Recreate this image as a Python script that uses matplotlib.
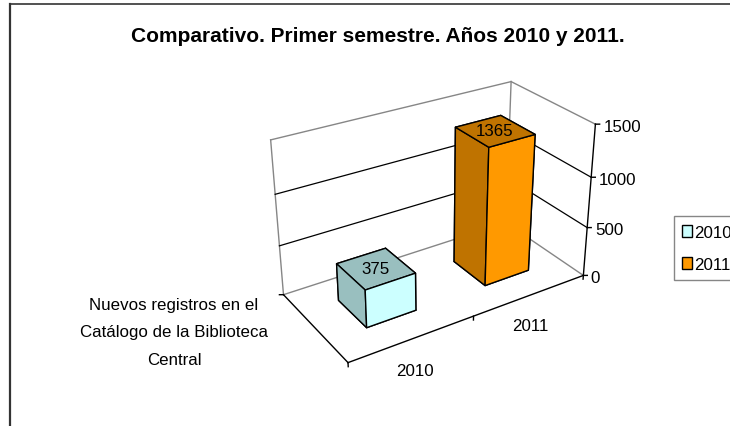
import matplotlib
matplotlib.use('Agg')
import matplotlib.pyplot as plt
from matplotlib.lines import Line2D
from matplotlib.patches import Patch

plt.rcParams['font.family'] = ['Liberation Sans', 'DejaVu Sans']

categorias = ['2010', '2011']
valores = [375, 1365]
ticks_z = [0, 500, 1000, 1500]
titulo = 'Comparativo. Primer semestre. Años 2010 y 2011.'
serie = 'Nuevos registros en el\nCatálogo de la Biblioteca\nCentral'

claros = ['#CCFFFF', '#FF9900']
oscuros = ['#99BFBF', '#BF7300']
gris = '#868686'
fonte = 12.2

W, H = 730, 427
fig = plt.figure(figsize=(W / 100, H / 100), dpi=100)

# posicao e vista ajustadas para cair em cima da imagem original
ax = fig.add_axes([257.0 / W, 35.8 / H, 348.1 / W, 348.1 / H], projection='3d', computed_zorder=False)
ax.set_xlim(0, 2, view_margin=0)
ax.set_ylim(0, 1, view_margin=0)
ax.set_zlim(0, 1500, view_margin=0)
ax.view_init(elev=28.1014, azim=-122.8806)
ax.set_proj_type('persp', focal_length=0.5448)
ax.set_box_aspect((2.4907, 1.2162, 1.5287))
ax.set_axis_off()

zmax = ticks_z[-1]

# paredes em cinza
ax.plot([0, 0], [1, 1], [0, zmax], color=gris, lw=1, zorder=1)
ax.plot([2, 2], [1, 1], [0, zmax], color=gris, lw=1, zorder=1)
ax.plot([0, 2], [1, 1], [zmax, zmax], color=gris, lw=1, zorder=1)
ax.plot([2, 2], [1, 0], [zmax, zmax], color=gris, lw=1, zorder=1)
ax.plot([0, 2], [1, 1], [0, 0], color=gris, lw=1, zorder=1)
ax.plot([2, 2], [1, 0], [0, 0], color=gris, lw=1, zorder=1)

# linhas de grade
for v in ticks_z[1:-1]:
    ax.plot([0, 2], [1, 1], [v, v], color='black', lw=0.9, zorder=1)
    ax.plot([2, 2], [1, 0], [v, v], color='black', lw=0.9, zorder=1)

# eixos
ax.plot([0, 2], [0, 0], [0, 0], color='black', lw=1, zorder=2)
ax.plot([0, 0], [1, 0], [0, 0], color='black', lw=1, zorder=2)
ax.plot([2, 2], [0, 0], [0, zmax], color='black', lw=1, zorder=2)

for v in ticks_z:
    ax.plot([2, 2.025], [0, -0.016], [v, v], color='black', lw=1, zorder=2)
    ax.text(2.045, -0.035, v - 15, str(v), fontsize=fonte, ha='left', va='center', zorder=5)
for i in range(len(categorias) + 1):
    ax.plot([i, i], [0, 0], [0, -40], color='black', lw=1, zorder=2)
ax.plot([0, -0.025], [1, 1.016], [0, 0], color='black', lw=1, zorder=2)

# barras: faces na ordem -Z, +Z, -Y, +Y, -X, +X
for i, v in enumerate(valores):
    cores = [oscuros[i], oscuros[i], claros[i], oscuros[i], oscuros[i], claros[i]]
    ax.bar3d(i + 0.3, 0.29, 0, 0.4, 0.42, v, color=cores, edgecolor='black', linewidth=1, shade=False, zorder=3 + i)
    ax.text(i + 0.5, 0.5, v, str(v), fontsize=fonte, ha='center', va='center', zorder=6)

for i, c in enumerate(categorias):
    ax.text(i + 0.5, -0.02, -310, c, fontsize=fonte, ha='center', va='center', zorder=5)

fig.text(174 / W, 1 - 333 / H, serie, fontsize=fonte, ha='center', va='center', linespacing=2.04)
fig.text(378 / W, 1 - 37 / H, titulo, fontsize=15, fontweight='bold', ha='center', va='center')

# moldura (direita e base ficam fora da imagem)
fig.add_artist(Line2D([10 / W, 10 / W], [0.003, 1 - 5 / H], color='#333333', lw=1.6))
fig.add_artist(Line2D([10 / W, 1], [1 - 5 / H, 1 - 5 / H], color='#333333', lw=1.2))

handles = [Patch(facecolor=claros[0], edgecolor='black', label=categorias[0]),
           Patch(facecolor=claros[1], edgecolor='black', label=categorias[1])]
fig.legend(handles=handles, loc='lower left', bbox_to_anchor=(674 / W, 1 - 281 / H), fontsize=fonte,
           fancybox=False, edgecolor=gris, framealpha=1, handlelength=0.55, handleheight=0.7,
           handletextpad=0.15, labelspacing=0.98, borderpad=0.5, borderaxespad=0, frameon=True)

fig.savefig('out.png', dpi=100)
